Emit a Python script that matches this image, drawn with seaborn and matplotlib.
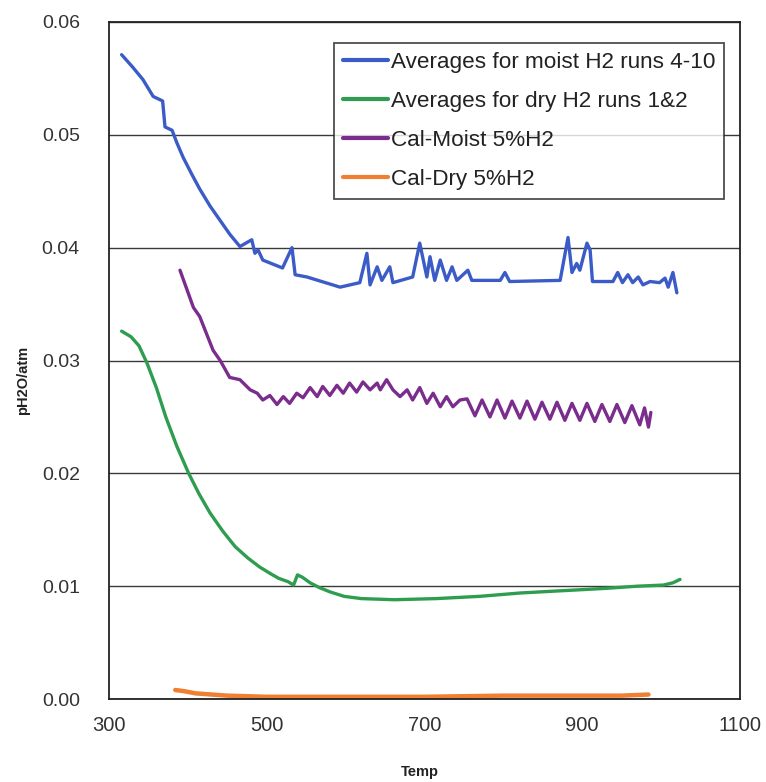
import matplotlib
matplotlib.use("Agg")
import matplotlib.pyplot as plt
import seaborn as sns
import pandas as pd

# Moist H2 averages, runs 4-10
moist_temp = [316, 330, 343, 356, 365, 368, 371, 380, 386, 394, 405, 415, 428, 441, 453,
              466, 481, 485, 489, 495, 520, 532, 536, 551, 593, 618, 627, 631, 640, 646,
              656, 660, 685, 694, 703, 707, 713, 720, 728, 735, 741, 755, 760, 796, 802,
              808, 872, 882, 887, 893, 897, 906, 910, 913, 939, 945, 951, 958, 964, 971,
              977, 986, 998, 1005, 1009, 1015, 1020]
moist_ph2o = [0.0571, 0.0560, 0.0549, 0.0534, 0.0531, 0.0530, 0.0507, 0.0504, 0.0493, 0.0480,
              0.0465, 0.0452, 0.0437, 0.0424, 0.0412, 0.0401, 0.0407, 0.0395, 0.0398, 0.0389,
              0.0382, 0.0400, 0.0376, 0.0374, 0.0365, 0.0369, 0.0395, 0.0367, 0.0383, 0.0371,
              0.0383, 0.0369, 0.0374, 0.0404, 0.0374, 0.0392, 0.0371, 0.0389, 0.0371, 0.0383,
              0.0371, 0.0380, 0.0371, 0.0371, 0.0378, 0.0370, 0.0371, 0.0409, 0.0378, 0.0386,
              0.0380, 0.0404, 0.0398, 0.0370, 0.0370, 0.0378, 0.0369, 0.0376, 0.0369, 0.0374,
              0.0367, 0.0370, 0.0369, 0.0373, 0.0365, 0.0378, 0.0360]

# Dry H2 averages, runs 1 & 2
dry_temp = [316, 328, 338, 348, 360, 372, 386, 401, 414, 428, 444, 460, 476, 491, 505,
            515, 527, 534, 539, 545, 555, 566, 580, 598, 620, 662, 715, 770, 822, 875,
            928, 970, 1003, 1015, 1024]
dry_ph2o = [0.0326, 0.0321, 0.0313, 0.0298, 0.0276, 0.0250, 0.0224, 0.0200, 0.0182, 0.0165,
            0.0149, 0.0135, 0.0125, 0.0117, 0.0111, 0.0107, 0.0104, 0.0101, 0.0110, 0.0108,
            0.0103, 0.0099, 0.0095, 0.0091, 0.0089, 0.0088, 0.0089, 0.0091, 0.0094, 0.0096,
            0.0098, 0.0100, 0.0101, 0.0103, 0.0106]

# Calibration, moist 5% H2
cal_moist_temp = [390, 407, 415, 432, 441, 453, 466, 479, 488, 495, 504, 513, 521, 529, 538,
                  546, 555, 564, 571, 580, 589, 597, 605, 614, 622, 631, 640, 644, 652, 660,
                  669, 678, 685, 694, 703, 711, 720, 728, 736, 745, 754, 764, 773, 783, 792,
                  802, 811, 821, 830, 840, 849, 859, 868, 878, 887, 897, 906, 916, 925, 935,
                  944, 954, 963, 973, 979, 984, 987]
cal_moist_ph2o = [0.0380, 0.0347, 0.0339, 0.0309, 0.0300, 0.0285, 0.0283, 0.0274, 0.0271, 0.0265,
                  0.0269, 0.0261, 0.0268, 0.0262, 0.0271, 0.0267, 0.0276, 0.0268, 0.0277, 0.0269,
                  0.0278, 0.0271, 0.0280, 0.0272, 0.0281, 0.0274, 0.0280, 0.0274, 0.0283, 0.0274,
                  0.0268, 0.0274, 0.0265, 0.0276, 0.0262, 0.0271, 0.0259, 0.0268, 0.0259, 0.0265,
                  0.0266, 0.0251, 0.0265, 0.0250, 0.0265, 0.0249, 0.0264, 0.0249, 0.0264, 0.0248,
                  0.0263, 0.0248, 0.0263, 0.0247, 0.0262, 0.0247, 0.0262, 0.0246, 0.0261, 0.0246,
                  0.0261, 0.0245, 0.0260, 0.0243, 0.0258, 0.0241, 0.0254]

# Calibration, dry 5% H2
cal_dry_temp = [384, 395, 410, 430, 450, 500, 600, 700, 800, 900, 950, 984]
cal_dry_ph2o = [0.0008, 0.0007, 0.0005, 0.0004, 0.0003, 0.0002, 0.0002, 0.0002, 0.0003,
                0.0003, 0.0003, 0.0004]

series_names = ["Averages for moist H2 runs 4-10", "Averages for dry H2 runs 1&2",
                "Cal-Moist 5%H2", "Cal-Dry 5%H2"]
series_colors = ["#3b5cc6", "#2f9d4f", "#7a2d8c", "#f07f32"]
x_ticks = [300, 500, 700, 900, 1100]
y_ticks = [0.00, 0.01, 0.02, 0.03, 0.04, 0.05, 0.06]

frames = []
for name, t, p in zip(series_names,
                      [moist_temp, dry_temp, cal_moist_temp, cal_dry_temp],
                      [moist_ph2o, dry_ph2o, cal_moist_ph2o, cal_dry_ph2o]):
    frames.append(pd.DataFrame({"Temp": t, "pH2O": p, "series": name}))
df = pd.concat(frames, ignore_index=True)

sns.set_style("white")
plt.rcParams["font.family"] = ["Liberation Sans", "DejaVu Sans"]

fig = plt.figure(figsize=(7.66, 7.82), dpi=100)
ax = fig.add_axes([0.1423, 0.1061, 0.8237, 0.8658])

sns.lineplot(data=df, x="Temp", y="pH2O", hue="series", hue_order=series_names,
             palette=series_colors, sort=False, estimator=None, linewidth=2.4, ax=ax)
# thicker line for the dry calibration trace
ax.lines[3].set_linewidth(3.2)

ax.set_xlim(300, 1100)
ax.set_ylim(0, 0.06)
ax.set_xticks(x_ticks)
ax.set_yticks(y_ticks)
ax.set_yticklabels([f"{v:.2f}" for v in y_ticks])
ax.grid(axis="y", color="#3a3a3a", linewidth=1.0)
ax.grid(axis="x", visible=False)
for s in ax.spines.values():
    s.set_color("#222222")
    s.set_linewidth(1.3)
ax.tick_params(axis="y", direction="out", length=5, width=1, color="#222222",
               labelsize=14, labelcolor="#333333", pad=16)
ax.tick_params(axis="x", direction="inout", length=9, width=1, color="#222222",
               labelsize=14.5, labelcolor="#333333", pad=8)

ax.set_xlabel("Temp", fontsize=10.5, fontweight="bold", color="#222222")
ax.set_ylabel("pH2O/atm", fontsize=10.5, fontweight="bold", color="#222222")
ax.xaxis.set_label_coords(0.493, -0.098)
ax.yaxis.set_label_coords(-0.125, 0.47)

leg = ax.legend(loc="upper right", bbox_to_anchor=(0.975, 0.969), borderaxespad=0,
                frameon=True, fancybox=False, fontsize=16.2, handlelength=2.0,
                handletextpad=0.1, labelspacing=0.8, borderpad=0.4, title=None)
leg.get_frame().set_edgecolor("#222222")
leg.get_frame().set_linewidth(1.3)
for t in leg.get_texts():
    t.set_color("#222222")
for h in leg.get_lines():
    h.set_linewidth(3)

fig.savefig("out.png", dpi=100)
